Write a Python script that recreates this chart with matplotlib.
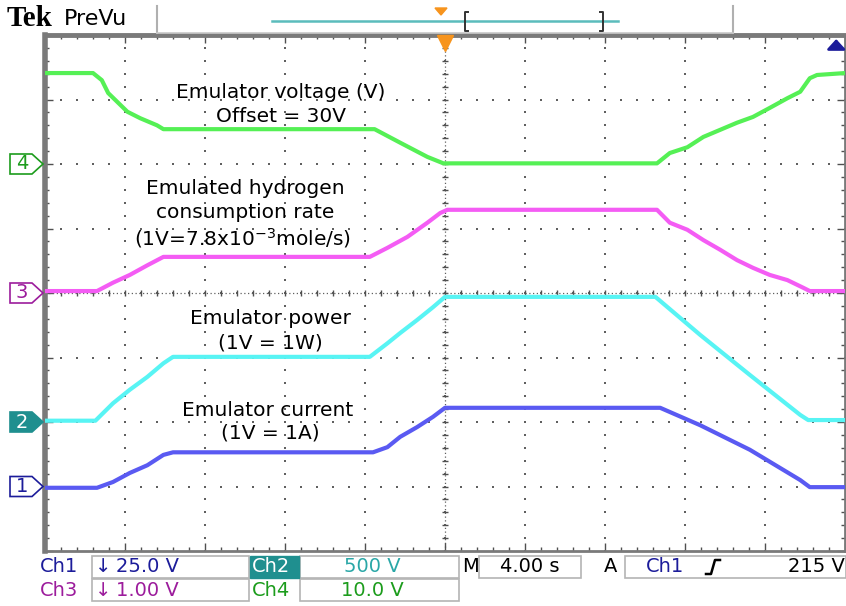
import matplotlib
matplotlib.use("Agg")
import matplotlib.pyplot as plt
from matplotlib.patches import Polygon, Rectangle
from matplotlib.lines import Line2D
import numpy as np

# traces, in screen divisions (x: 0..10, y: 0..8)
volt_t = [0, 0.6, 0.71, 0.79, 1.03, 1.19, 1.4, 1.48, 4.12, 4.44, 4.78, 4.98, 7.65,
          7.81, 8.03, 8.23, 8.44, 8.65, 8.85, 9.06, 9.28, 9.44, 9.56, 9.65, 10]
volt_y = [7.41, 7.41, 7.30, 7.10, 6.81, 6.71, 6.60, 6.54, 6.54, 6.33, 6.11, 6.01, 6.01,
          6.17, 6.26, 6.42, 6.53, 6.64, 6.73, 6.87, 7.02, 7.12, 7.33, 7.38, 7.41]

h2_t = [0, 0.65, 0.85, 1.06, 1.28, 1.48, 1.56, 4.06, 4.28, 4.53, 4.78, 4.94, 5.03, 7.65,
        7.81, 8.03, 8.23, 8.44, 8.65, 8.85, 9.06, 9.28, 9.48, 9.56, 10]
h2_y = [4.03, 4.03, 4.16, 4.28, 4.43, 4.56, 4.56, 4.56, 4.70, 4.87, 5.09, 5.24, 5.29, 5.29,
        5.09, 4.98, 4.82, 4.67, 4.51, 4.39, 4.28, 4.20, 4.08, 4.03, 4.03]

pow_t = [0, 0.63, 0.85, 1.06, 1.28, 1.48, 1.6, 4.06, 4.28, 4.44, 4.65, 4.85, 5.0, 7.63,
         8.19, 8.81, 9.44, 9.54, 10]
pow_y = [2.02, 2.02, 2.29, 2.50, 2.70, 2.91, 3.01, 3.01, 3.22, 3.38, 3.58, 3.78, 3.94, 3.94,
         3.35, 2.73, 2.11, 2.03, 2.03]

cur_t = [0, 0.65, 0.85, 1.06, 1.28, 1.48, 1.6, 4.1, 4.28, 4.44, 4.65, 4.85, 5.0, 7.69,
         8.19, 8.81, 9.44, 9.56, 10]
cur_y = [0.98, 0.98, 1.07, 1.21, 1.33, 1.49, 1.53, 1.53, 1.61, 1.77, 1.92, 2.08, 2.22, 2.22,
         1.95, 1.57, 1.10, 0.99, 0.99]

ch_levels = [1, 2, 4, 6]          # ground markers for Ch1..Ch4
ch_names = ["1", "2", "3", "4"]

labels = [
    ("Emulator voltage (V)", 281, 92),
    ("Offset = 30V", 281, 116),
    ("Emulated hydrogen", 245, 188),
    ("consumption rate", 245, 213),
    ("(1V=7.8x10$^{-3}$mole/s)", 243, 238),
    ("Emulator power", 270, 318),
    ("(1V = 1W)", 270, 343),
    ("Emulator current", 268, 410),
    ("(1V = 1A)", 270, 433),
]

W, H = 846, 606
C_GREEN = "#55f055"
C_MAG = "#f45cf4"
C_CYAN = "#58f4f4"
C_BLUE = "#5a5af2"
NAVY = "#1c1c9a"
TEAL = "#1f8f8f"
PURP = "#9c1c9c"
DGREEN = "#1c9c1c"

plt.rcParams["mathtext.default"] = "regular"


def fx(x):
    return x / W


def fy(y):
    return 1 - y / H


fig = plt.figure(figsize=(W / 100, H / 100), dpi=100)
ax = fig.add_axes([fx(45), fy(551), 800 / W, 516 / H])
ax.set_xlim(0, 10)
ax.set_ylim(0, 8)

# graticule dots
for k in range(1, 8):
    xs = np.arange(0, 10.01, 0.2)
    ax.scatter(xs, np.full_like(xs, k), s=1.6, marker="s", color="#606060", lw=0, zorder=1)
for j in range(1, 10):
    ys = np.arange(0, 8.01, 0.2)
    ax.scatter(np.full_like(ys, j), ys, s=1.6, marker="s", color="#606060", lw=0, zorder=1)
# center axes with ticks
ax.plot([5, 5], [0, 8], color="#606060", lw=0.9, ls=(0, (1, 2)), zorder=1)
ax.plot([0, 10], [4, 4], color="#606060", lw=0.9, ls=(0, (1, 2)), zorder=1)
ys = np.arange(0, 8.01, 0.2)
ax.plot(np.full_like(ys, 5), ys, ls="none", marker="_", ms=5, mew=1, color="#505050", zorder=1)
xs = np.arange(0, 10.01, 0.2)
ax.plot(xs, np.full_like(xs, 4), ls="none", marker="|", ms=5, mew=1, color="#505050", zorder=1)

# traces
for t, y, c in [(volt_t, volt_y, C_GREEN), (h2_t, h2_y, C_MAG),
                (pow_t, pow_y, C_CYAN), (cur_t, cur_y, C_BLUE)]:
    ax.plot(t, y, color=c, lw=3.0, solid_joinstyle="round", zorder=3)

for txt, x, y in labels:
    fig.text(fx(x), fy(y), txt, ha="center", va="center", fontsize=14.5,
             family="DejaVu Sans", color="black", zorder=5)

# frame
ax.set_xticks(range(0, 11))
ax.set_yticks(range(0, 9))
ax.set_xticks(np.arange(0, 10.01, 0.2), minor=True)
ax.set_yticks(np.arange(0, 8.01, 0.2), minor=True)
ax.tick_params(which="both", direction="in", top=True, right=True,
               labelbottom=False, labelleft=False, color="#505050")
ax.tick_params(which="major", length=6, width=1)
ax.tick_params(which="minor", length=3, width=1)
for side, lw in [("left", 4), ("top", 3.5), ("bottom", 2), ("right", 2)]:
    ax.spines[side].set_linewidth(lw)
    ax.spines[side].set_color("#7a7a7a")

# trigger position and level markers
ax.plot([5], [7.88], marker="v", ms=11, color="#f7941d", mec="#f7941d", clip_on=False, zorder=6)
ax.annotate("", xy=(9.89, 7.98), xytext=(9.89, 7.76),
            arrowprops=dict(arrowstyle="-|>,head_width=0.55,head_length=0.6",
                            color=NAVY, lw=2.0), annotation_clip=False)

# channel ground markers
for lvl, name, col in zip(ch_levels, ch_names, [NAVY, TEAL, PURP, DGREEN]):
    yc = 551 - lvl * 64.5
    pts = [(fx(10), fy(yc - 10)), (fx(32), fy(yc - 10)), (fx(43), fy(yc)),
           (fx(32), fy(yc + 10)), (fx(10), fy(yc + 10))]
    filled = name == "2"
    fig.add_artist(Polygon(pts, closed=True, transform=fig.transFigure,
                           facecolor=TEAL if filled else "white",
                           edgecolor=col, lw=1.2, zorder=6))
    fig.text(fx(22), fy(yc), name, ha="center", va="center", fontsize=14,
             color="white" if filled else col, zorder=7)

# header
fig.text(fx(7), fy(19), "Tek", fontsize=21, weight="bold", family="Liberation Serif",
         va="center", ha="left")
fig.text(fx(64), fy(19), "PreVu", fontsize=16, family="DejaVu Sans", va="center", ha="left")
for xs_ in (157, 733):
    fig.add_artist(Line2D([fx(xs_), fx(xs_)], [fy(6), fy(33)], color="#b0b0b0", lw=1.5))
fig.add_artist(Line2D([fx(157), fx(733)], [fy(33), fy(33)], color="#c8c8c8", lw=1.2))
fig.add_artist(Line2D([fx(272), fx(618)], [fy(21), fy(21)], color="#5bbcbc", lw=1.8))
fig.add_artist(Line2D([fx(468), fx(465), fx(465), fx(468)],
                      [fy(12), fy(12), fy(31), fy(31)], color="#333333", lw=1.4))
fig.add_artist(Line2D([fx(600), fx(603), fx(603), fx(600)],
                      [fy(12), fy(12), fy(31), fy(31)], color="#333333", lw=1.4))
fig.add_artist(Polygon([(fx(435), fy(8)), (fx(447), fy(8)), (fx(441), fy(15))],
                       closed=True, transform=fig.transFigure, color="#f7941d"))

# status bar boxes
box_c = "#b4b4b4"
for x0, y0, x1, y1 in [(92, 556, 249, 578), (300, 556, 459, 578), (479, 556, 581, 578),
                       (625, 556, 846, 578), (92, 579, 249, 601), (300, 579, 459, 601)]:
    fig.add_artist(Rectangle((fx(x0), fy(y1)), fx(x1) - fx(x0), fy(y0) - fy(y1),
                             transform=fig.transFigure, fill=False, ec=box_c, lw=1.2))
fig.add_artist(Rectangle((fx(250), fy(578)), fx(49), fy(556) - fy(578),
                         transform=fig.transFigure, color=TEAL))

st = dict(fontsize=14, family="DejaVu Sans", va="center")
fig.text(fx(40), fy(567), "Ch1", color=NAVY, ha="left", **st)
fig.text(fx(95), fy(567), "\u2193", color=NAVY, ha="left", **st)
fig.text(fx(116), fy(567), "25.0 V", color=NAVY, ha="left", **st)
fig.text(fx(252), fy(567), "Ch2", color="white", ha="left", **st)
fig.text(fx(372), fy(567), "500 V", color="#2aa7a7", ha="center", **st)
fig.text(fx(462), fy(567), "M", color="black", ha="left", **st)
fig.text(fx(530), fy(567), "4.00 s", color="black", ha="center", **st)
fig.text(fx(604), fy(567), "A", color="black", ha="left", **st)
fig.text(fx(646), fy(567), "Ch1", color=NAVY, ha="left", **st)
fig.add_artist(Line2D([fx(706), fx(711), fx(715), fx(720)],
                      [fy(574), fy(574), fy(560), fy(560)], color="black", lw=1.8))
fig.text(fx(845), fy(567), "215 V", color="black", ha="right", **st)
fig.text(fx(40), fy(590), "Ch3", color=PURP, ha="left", **st)
fig.text(fx(95), fy(590), "\u2193", color=PURP, ha="left", **st)
fig.text(fx(116), fy(590), "1.00 V", color=PURP, ha="left", **st)
fig.text(fx(252), fy(590), "Ch4", color=DGREEN, ha="left", **st)
fig.text(fx(372), fy(590), "10.0 V", color=DGREEN, ha="center", **st)

fig.savefig("out.png", dpi=100, facecolor="white")
